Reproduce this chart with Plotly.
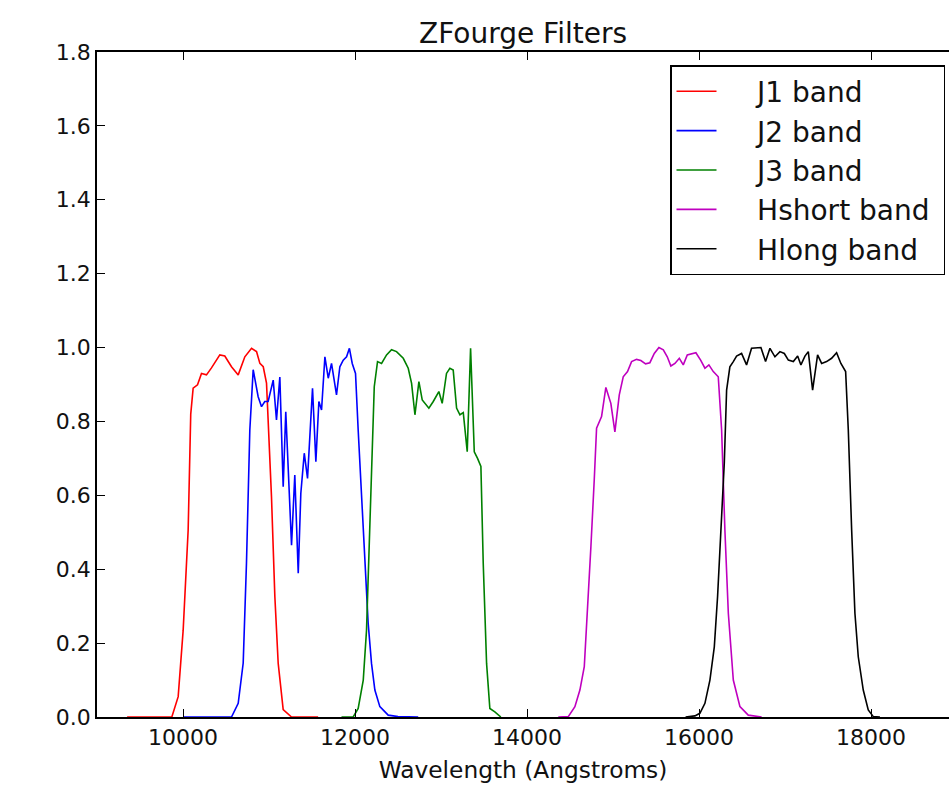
import plotly.graph_objects as go

# ---- data ----
j1_wl = [9350, 9700, 9870, 9944, 10002, 10060, 10090, 10118, 10169, 10215, 10273, 10331, 10428, 10486,
         10564, 10642, 10719, 10797, 10855, 10894, 10933, 10971, 11000, 11029, 11068, 11107, 11165, 11262, 11571]
j1_tr = [0.0, 0.0, 0.0, 0.055, 0.235, 0.506, 0.82, 0.89, 0.899, 0.93, 0.926, 0.945, 0.98, 0.977,
         0.948, 0.926, 0.975, 0.998, 0.989, 0.957, 0.948, 0.904, 0.77, 0.596, 0.326, 0.145, 0.02, 0.0, 0.0]

j2_wl = [10000, 10400, 10564, 10642, 10700, 10738, 10777, 10816, 10874, 10913, 10951, 10990, 11049, 11087,
         11126, 11165, 11195, 11262, 11300, 11340, 11370, 11410, 11448, 11506, 11545, 11580, 11611, 11650,
         11689, 11727, 11785, 11824, 11863, 11902, 11935, 11968, 12006, 12037, 12076, 12114, 12153, 12192,
         12231, 12289, 12386, 12500, 12735]
j2_tr = [0.0, 0.0, 0.0, 0.037, 0.146, 0.416, 0.777, 0.94, 0.867, 0.84, 0.854, 0.854, 0.912, 0.804,
         0.92, 0.623, 0.826, 0.465, 0.655, 0.389, 0.605, 0.714, 0.646, 0.89, 0.691, 0.854, 0.831, 0.975,
         0.917, 0.957, 0.872, 0.948, 0.966, 0.975, 0.998, 0.957, 0.93, 0.777, 0.596, 0.416, 0.254, 0.145,
         0.073, 0.028, 0.005, 0.001, 0.0]

j3_wl = [11843, 11979, 12037, 12096, 12134, 12172, 12200, 12224, 12262, 12309, 12367, 12425, 12483, 12561,
         12619, 12658, 12697, 12743, 12782, 12859, 12910, 12975, 13014, 13064, 13103, 13142, 13181, 13220,
         13259, 13305, 13344, 13387, 13425, 13464, 13491, 13530, 13568, 13626, 13696]
j3_tr = [0.0, 0.0, 0.023, 0.1, 0.235, 0.506, 0.732, 0.894, 0.962, 0.957, 0.98, 0.994, 0.989, 0.971,
         0.944, 0.903, 0.818, 0.908, 0.858, 0.836, 0.854, 0.881, 0.849, 0.93, 0.944, 0.939, 0.836, 0.818,
         0.824, 0.718, 0.998, 0.718, 0.700, 0.678, 0.416, 0.145, 0.023, 0.014, 0.0]

hs_wl = [14364, 14480, 14557, 14615, 14666, 14704, 14743, 14782, 14809, 14867, 14917, 14975, 15022, 15073,
         15119, 15169, 15216, 15274, 15324, 15379, 15429, 15480, 15534, 15585, 15631, 15673, 15720, 15771,
         15817, 15864, 15914, 15964, 16019, 16069, 16115, 16166, 16224, 16263, 16301, 16341, 16399, 16476,
         16573, 16728]
hs_tr = [0.0, 0.001, 0.028, 0.073, 0.136, 0.281, 0.461, 0.642, 0.782, 0.813, 0.892, 0.849, 0.772, 0.872,
         0.921, 0.935, 0.962, 0.968, 0.965, 0.956, 0.959, 0.984, 1.0, 0.994, 0.975, 0.950, 0.957, 0.971,
         0.953, 0.98, 0.983, 0.986, 0.966, 0.944, 0.953, 0.935, 0.921, 0.777, 0.506, 0.281, 0.1, 0.028,
         0.005, 0.0]

hl_wl = [15844, 15952, 16010, 16069, 16127, 16178, 16216, 16255, 16294, 16321, 16359, 16399, 16437, 16495,
         16553, 16611, 16669, 16720, 16774, 16825, 16883, 16941, 16992, 17039, 17097, 17147, 17185, 17232,
         17271, 17321, 17379, 17426, 17484, 17542, 17600, 17650, 17705, 17736, 17775, 17813, 17852, 17910,
         17968, 18027, 18104]
hl_tr = [0.0, 0.003, 0.01, 0.037, 0.1, 0.19, 0.326, 0.506, 0.687, 0.885, 0.948, 0.962, 0.977, 0.984,
         0.953, 0.998, 0.998, 1.0, 0.962, 0.998, 0.975, 0.989, 0.984, 0.966, 0.962, 0.977, 0.953, 0.977,
         0.989, 0.885, 0.98, 0.957, 0.962, 0.971, 0.986, 0.957, 0.935, 0.777, 0.506, 0.281, 0.163, 0.073,
         0.019, 0.001, 0.0]

band_names = ["J1 band", "J2 band", "J3 band", "Hshort band", "Hlong band"]
band_colors = ["#ff0000", "#0000ff", "#008000", "#bf00bf", "#000000"]
band_wl = [j1_wl, j2_wl, j3_wl, hs_wl, hl_wl]
band_tr = [j1_tr, j2_tr, j3_tr, hs_tr, hl_tr]

x_ticks = [10000, 12000, 14000, 16000, 18000]
y_ticks = [0.0, 0.2, 0.4, 0.6, 0.8, 1.0, 1.2, 1.4, 1.6, 1.8]

FONT = "DejaVu Sans"
NB = "\u00a0"

fig = go.Figure()
for i, (name, wl, tr, col) in enumerate(zip(band_names, band_wl, band_tr, band_colors)):
    fig.add_trace(go.Scatter(x=wl, y=tr, mode="lines", name=NB * 4 + name + NB,
                             line=dict(color=col, width=1.6),
                             legendgroup=f"g{i}"))

fig.update_layout(
    width=949, height=789,
    margin=dict(l=97, r=0, t=52, b=72),
    paper_bgcolor="white", plot_bgcolor="white",
    font=dict(family=FONT, color="black"),
    title=dict(text="ZFourge Filters", x=0.5, xref="paper", xanchor="center",
               y=1 - 33 / 789, yanchor="middle", font=dict(size=28, family=FONT, color="#111111")),
    showlegend=True,
    legend=dict(x=(670 - 97) / 852, y=(717 - 65) / 665, xanchor="left", yanchor="top",
                bordercolor="black", borderwidth=1.5, bgcolor="white",
                font=dict(size=28, family=FONT, color="#111111"), tracegroupgap=0,
                itemwidth=40),
)
fig.update_xaxes(
    range=[9000, 9000 + (949 - 97) * 2000 / 172],
    tickvals=x_ticks, ticktext=[str(v) for v in x_ticks],
    ticks="inside", ticklen=8, tickcolor="black", tickwidth=1,
    showline=True, linecolor="black", linewidth=1.5, mirror="ticks",
    showgrid=False, zeroline=False,
    tickfont=dict(size=22, family=FONT, color="#111111"),
    title=dict(text="Wavelength (Angstroms)", font=dict(size=23.3, family=FONT, color="#111111"), standoff=13),
)
fig.update_yaxes(
    range=[0, 1.8],
    tickvals=y_ticks, ticktext=[f"{v:.1f}" for v in y_ticks],
    ticks="inside", ticklen=8, tickcolor="black", tickwidth=1,
    showline=True, linecolor="black", linewidth=1.5, mirror=False,
    showgrid=False, zeroline=False,
    tickfont=dict(size=22, family=FONT, color="#111111"),
)

fig.write_html("out.html")
